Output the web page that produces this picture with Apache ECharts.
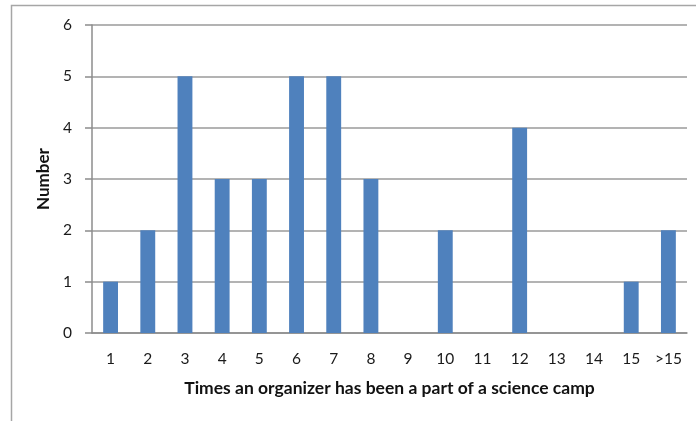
<!DOCTYPE html>
<html><head><meta charset="utf-8">
<script src="https://cdn.jsdelivr.net/npm/echarts@6/dist/echarts.min.js"></script>
<style>html,body{margin:0;padding:0;background:#fff}#c{width:696px;height:421px}</style>
</head><body><div id="c"></div>
<script>
const categories = ['1','2','3','4','5','6','7','8','9','10','11','12','13','14','15','>15'];
const values = [1,2,5,3,3,5,5,3,0,2,0,4,0,0,1,2];
const yTicks = [0,1,2,3,4,5,6];
const xTitle = 'Times an organizer has been a part of a science camp';
const yTitle = 'Number';
const chart = echarts.init(document.getElementById('c'), null, {renderer:'canvas'});
const font = 'Lato, "Open Sans", sans-serif';
chart.setOption({
  animation:false,
  graphic:[{type:'rect',shape:{x:11.5,y:5.5,width:800,height:600},style:{fill:'none',stroke:'#a6a6a6',lineWidth:1.5},silent:true,z:-1}],
  grid:{left:92,right:9,top:25,bottom:88},
  xAxis:{type:'category',data:categories,
    axisLine:{lineStyle:{color:'#8c8c8c',width:1.5}},
    axisTick:{show:false},
    axisLabel:{color:'#1a1a1a',fontSize:15.5,fontFamily:font,margin:18},
    name:xTitle,nameLocation:'middle',nameGap:55,
    nameTextStyle:{color:'#111',fontSize:17.5,fontWeight:'bold',fontFamily:font,verticalAlign:'middle'}},
  yAxis:{type:'value',min:0,max:6,interval:1,
    axisLine:{show:true,lineStyle:{color:'#8c8c8c',width:1.5}},
    axisTick:{show:true,length:7,lineStyle:{color:'#8c8c8c',width:1.5}},
    splitLine:{lineStyle:{color:'#9a9a9a',width:1.5}},
    axisLabel:{color:'#1a1a1a',fontSize:15.5,fontFamily:font,margin:20,
      formatter:v=>yTicks.includes(v)?String(v):''},
    name:yTitle,nameLocation:'middle',nameGap:47,nameRotate:90,
    nameTextStyle:{color:'#111',fontSize:17,fontWeight:'bold',fontFamily:font,verticalAlign:'middle'}},
  series:[{type:'bar',data:values,barWidth:'40%',itemStyle:{color:'#4f81bd'}}]
});
</script></body></html>
